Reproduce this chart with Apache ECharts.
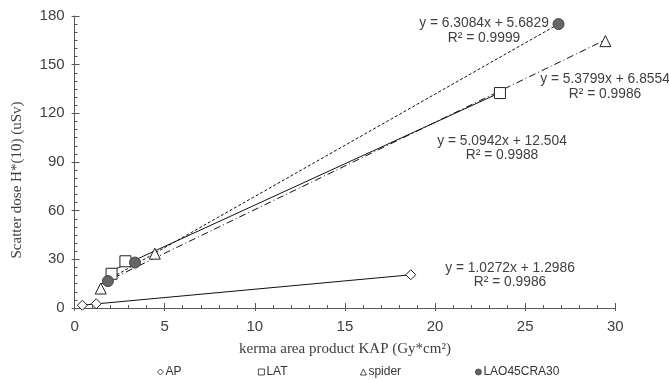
<!DOCTYPE html>
<html>
<head>
<meta charset="utf-8">
<script src="https://cdn.jsdelivr.net/npm/echarts@6/dist/echarts.min.js"></script>
<style>
  html, body { margin: 0; padding: 0; background: #fff; }
  #chart { width: 669px; height: 380px; }
</style>
</head>
<body>
<div id="chart"></div>
<script>
// measured points
const seriesNames = ['AP', 'LAT', 'spider', 'LAO45CRA30'];
const apX = [0.43, 1.2, 18.65];
const apY = [1.7, 2.6, 20.5];
const latX = [2.05, 2.82, 23.6];
const latY = [21.1, 28.8, 132.5];
const spiderX = [1.45, 4.45, 29.45];
const spiderY = [12, 33.5, 164.5];
const laoX = [1.85, 3.35, 26.85];
const laoY = [16.6, 28, 175];

// trendline end points
const apTrend = [[0.43, 1.74], [18.65, 20.46]];
const latTrend = [[2.05, 22.95], [23.6, 132.73]];
const spiderTrend = [[1.45, 14.66], [29.45, 165.29]];
const laoTrend = [[1.85, 17.35], [26.85, 175.06]];

const eqTexts = [
  'y = 6.3084x + 5.6829\nR² = 0.9999',
  'y = 5.3799x + 6.8554\nR² = 0.9986',
  'y = 5.0942x + 12.504\nR² = 0.9988',
  'y = 1.0272x + 1.2986\nR² = 0.9986'
];

const xTicks = [0, 5, 10, 15, 20, 25, 30];
const yTicks = [0, 30, 60, 90, 120, 150, 180];

const pair = (xs, ys) => xs.map((x, i) => [x, ys[i]]);

const axisColor = '#595959';
const textColor = '#404040';
const sans = 'Liberation Sans, Arial, sans-serif';
const serif = 'Liberation Serif, Times New Roman, serif';

const chart = echarts.init(document.getElementById('chart'));

function trend(data, type) {
  return {
    type: 'line',
    data: data,
    symbol: 'none',
    silent: true,
    z: 2,
    lineStyle: { color: '#111', width: 1, type: type }
  };
}

function pts(name, data, symbol, fill, size) {
  return {
    name: name,
    type: 'scatter',
    data: data,
    symbol: symbol,
    symbolSize: size,
    z: 5,
    itemStyle: { color: fill, borderColor: fill === '#fff' ? '#222' : '#444', borderWidth: 1, opacity: 1 }
  };
}

function legendAt(name, left) {
  return {
    data: [name],
    left: left,
    top: 361,
    itemWidth: 6,
    itemHeight: 6,
    itemGap: 0,
    selectedMode: false,
    itemStyle: { borderWidth: 0.8 },
    textStyle: { fontSize: 12, color: '#333', fontFamily: sans, padding: [0, 0, 0, -3] }
  };
}

// eq label: [text index, centre x, centre y]
function eqLabel(i, x, y) {
  return {
    type: 'text', x: x, y: y,
    style: { text: eqTexts[i], font: '13.8px ' + sans, fill: textColor, textAlign: 'center',
      textVerticalAlign: 'middle', lineHeight: 14.5 }
  };
}

const option = {
  backgroundColor: '#fff',
  animation: false,
  grid: { left: 74.6, right: 53.7, top: 16, bottom: 72 },
  legend: [
    legendAt('AP', 152),
    legendAt('LAT', 253),
    legendAt('spider', 355),
    legendAt('LAO45CRA30', 470)
  ],
  xAxis: [{
    type: 'value',
    min: 0, max: 30, interval: 5,
    name: 'kerma area product KAP (Gy*cm²)',
    nameLocation: 'middle',
    nameGap: 34,
    nameTextStyle: { fontFamily: serif, fontSize: 15, color: textColor },
    axisLine: { lineStyle: { color: axisColor, width: 1 } },
    axisTick: { inside: true, length: 5, lineStyle: { color: axisColor } },
    minorTick: { show: true, splitNumber: 5, length: 3, lineStyle: { color: axisColor } },
    axisLabel: { margin: 11, fontFamily: sans, fontSize: 15, color: textColor,
      formatter: v => xTicks.includes(v) ? String(v) : '' },
    splitLine: { show: false }
  }, {
    type: 'value',
    position: 'bottom',
    min: 0, max: 30, interval: 5,
    axisLine: { show: false },
    axisTick: { show: true, inside: false, length: 3, lineStyle: { color: axisColor } },
    axisLabel: { show: false },
    splitLine: { show: false }
  }],
  yAxis: [{
    type: 'value',
    min: 0, max: 180, interval: 30,
    axisLine: { show: true, lineStyle: { color: axisColor, width: 1 } },
    axisTick: { show: true, inside: true, length: 5, lineStyle: { color: axisColor } },
    minorTick: { show: true, splitNumber: 6, length: 3, lineStyle: { color: axisColor } },
    axisLabel: { margin: 10, fontFamily: sans, fontSize: 15, color: textColor,
      formatter: v => yTicks.includes(v) ? String(v) : '' },
    splitLine: { show: false }
  }, {
    type: 'value',
    position: 'left',
    min: 0, max: 180, interval: 30,
    axisLine: { show: false },
    axisTick: { show: true, inside: false, length: 3, lineStyle: { color: axisColor } },
    axisLabel: { show: false },
    splitLine: { show: false }
  }],
  graphic: [
    { type: 'text', x: 17, y: 180, rotation: Math.PI / 2,
      style: { text: 'Scatter dose H*(10) (uSv)', font: '15px ' + serif, fill: textColor,
        textAlign: 'center', textVerticalAlign: 'middle' } },
    eqLabel(0, 484, 30.5),
    eqLabel(1, 605, 86.5),
    eqLabel(2, 502, 148),
    eqLabel(3, 510, 275)
  ],
  series: [
    trend(apTrend, 'solid'),
    trend(latTrend, 'solid'),
    trend(spiderTrend, [7, 3, 1, 3]),
    trend(laoTrend, [3, 2]),
    pts(seriesNames[0], pair(apX, apY), 'diamond', '#fff', 10),
    pts(seriesNames[1], pair(latX, latY), 'rect', '#fff', 11),
    pts(seriesNames[2], pair(spiderX, spiderY), 'triangle', '#fff', 11),
    pts(seriesNames[3], pair(laoX, laoY), 'circle', '#666', 11)
  ]
};

chart.setOption(option);
</script>
</body>
</html>
